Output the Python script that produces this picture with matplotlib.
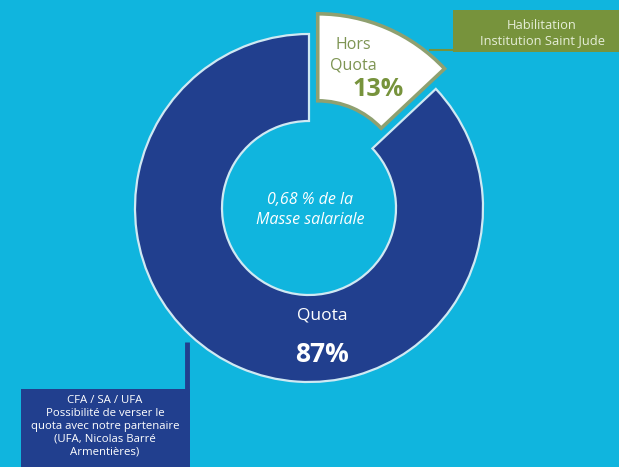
import matplotlib
matplotlib.use("Agg")
import matplotlib.pyplot as plt
from matplotlib.patches import Rectangle

# données
parts = ["Hors\nQuota", "Quota"]
values = [13, 87]
centre_lines = ["0,68 % de la", "Masse salariale"]
box_green = "Habilitation\nInstitution Saint Jude"
box_blue = "CFA / SA / UFA\nPossibilité de verser le\nquota avec notre partenaire\n(UFA, Nicolas Barré\nArmentières)"

BG = "#10b5de"
BLUE = "#213f8e"
GREEN = "#77933c"
W, H = 619, 467

plt.rcParams["font.family"] = ["Open Sans", "DejaVu Sans"]

fig = plt.figure(figsize=(W / 100, H / 100), dpi=100, facecolor=BG)
ax = fig.add_axes([0, 0, 1, 1])
ax.set_facecolor(BG)

cx, cy, R, ring = 309, H - 208, 174, 87
wedges, _ = ax.pie(values, center=(cx, cy), radius=R, startangle=90,
                   counterclock=False, explode=[22, 0],
                   colors=["white", BLUE],
                   wedgeprops=dict(width=ring, linewidth=1.6, edgecolor="#cfe9f3"))
wedges[0].set_edgecolor("#8fa070")
wedges[0].set_linewidth(2.6)
ax.set_xlim(0, W)
ax.set_ylim(0, H)
ax.axis("off")

# étiquettes du petit secteur
ax.text(353, H - 55, parts[0], ha="center", va="center", fontsize=11.5,
        color="#7d9452", linespacing=1.35)
ax.text(378, H - 90, f"{values[0]}%", ha="center", va="center", fontsize=18,
        color=GREEN, fontweight="bold")
# grand secteur
ax.text(322, H - 315, parts[1], ha="center", va="center", fontsize=12.5, color="white")
ax.text(322, H - 355, f"{values[1]}%", ha="center", va="center", fontsize=19,
        color="white", fontweight="bold")
# centre
ax.text(310, H - 210, "\n".join(centre_lines), ha="center", va="center",
        fontsize=11.5, color="white", style="italic", linespacing=1.35)

# encadré vert + trait
ax.add_patch(Rectangle((453, H - 52), 170, 42, facecolor=GREEN, edgecolor="none"))
ax.plot([430, 453], [H - 50, H - 50], color=GREEN, lw=1.5)
ax.text(542, H - 33, box_green, ha="center", va="center", fontsize=9.3,
        color="#e6eed8", linespacing=1.2)

# encadré bleu + trait
ax.add_patch(Rectangle((21, 0), 169, H - 389, facecolor=BLUE, edgecolor="none"))
ax.plot([187, 187], [H - 342, H - 389], color=BLUE, lw=3.5, solid_capstyle="butt")
ax.text(105, H - 426, box_blue, ha="center", va="center", fontsize=8.2,
        color="white", linespacing=1.22)

fig.savefig("out.png", dpi=100, facecolor=BG)
